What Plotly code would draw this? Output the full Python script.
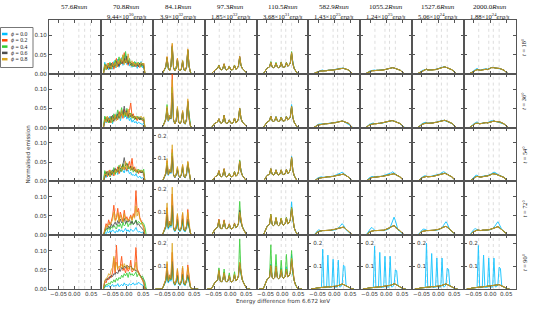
import plotly.graph_objects as go

# ---------------------------------------------------------------- data
ENERGY = [-0.072, -0.068, -0.064, -0.060, -0.056, -0.052, -0.048, -0.044, -0.040, -0.036,
          -0.032, -0.028, -0.024, -0.020, -0.016, -0.012, -0.008, -0.004, 0.000, 0.004,
          0.008, 0.012, 0.016, 0.020, 0.024, 0.028, 0.032, 0.036, 0.040, 0.044,
          0.048, 0.052, 0.056, 0.060]
PHASES = ["0.0", "0.2", "0.4", "0.6", "0.8"]
PHASE_COLORS = ["#00BFFF", "#FF4500", "#32CD32", "#4D4D4D", "#DAA520"]
RADII = ["57.6", "70.8", "84.1", "97.3", "110.5", "582.9", "1055.2", "1527.6", "2000.0"]
LUM_MANTISSA = ["", "9.44", "3.9", "1.85", "3.68", "1.43", "1.24", "5.06", "1.88"]
LUM_EXPONENT = ["", "30", "32", "32", "31", "25", "25", "24", "24"]
INCLINATIONS = [18, 36, 54, 72, 90]
X_TICKS = [-0.05, 0.0, 0.05]
X_TICK_TEXT = ["\u22120.05", "0.00", "0.05"]
Y_TICKS = [0.0, 0.05, 0.10]
Y_TICK_TEXT = ["0.00", "0.05", "0.10"]
Y_TICKS_TALL = [0.1, 0.2]
Y_TICK_TEXT_TALL = ["0.1", "0.2"]
LINE_MARKS_EARLY = [-0.035, 0.012, 0.030, 0.048]
LINE_MARKS = [-0.035, -0.004, 0.010, 0.028]

# Normalised emission in thousandths, order of PHASES, sampled on ENERGY
# ---- column 70.8 Rsun
c2_t18 = [
    [0, 30,14,24,10,26,16,12,32,15, 24,38,17,28,42,22,32,50,24,36, 20,30,17,26,19,30,14,22,26,32, 16,24,0,0],
    [0, 22,18,12,28,14,20,30,12,26, 40,18,30,24,36,26,55,30,40,22, 34,26,20,30,24,18,28,20,16,26, 22,28,0,0],
    [0, 26,10,20,16,30,12,24,18,36, 20,28,44,26,34,48,28,58,34,30, 40,22,28,18,32,24,20,30,22,18, 28,20,0,0],
    [0, 18,24,14,22,12,28,18,26,20, 32,24,20,38,26,30,40,28,46,26, 32,24,28,22,20,26,24,18,28,22, 26,18,0,0],
    [0, 24,12,28,16,22,14,28,20,30, 16,34,26,40,30,50,24,36,28,52, 30,26,34,20,28,22,30,26,20,30, 24,28,0,0],
]
c2_t36 = [
    [0, 26,12,20,14,30,18,10,28,20, 34,22,40,18,30,44,26,38,22,30, 18,26,14,20,12,16,10,14,12,10, 8,12,0,0],
    [0, 20,28,14,24,12,30,22,16,34, 26,20,42,28,36,24,48,30,38,26, 44,64,30,36,22,28,18,26,20,24, 18,22,0,0],
    [0, 30,16,26,12,22,28,14,36,22, 30,46,24,34,52,30,40,28,50,34, 26,38,24,30,20,26,30,22,28,20, 24,26,0,0],
    [0, 16,22,18,26,14,20,32,18,28, 22,36,26,30,42,34,56,36,44,30, 38,28,34,26,30,22,24,28,20,26, 22,20,0,0],
    [0, 22,14,30,18,24,12,26,20,32, 18,28,36,24,46,28,34,40,30,48, 30,36,26,32,24,30,22,28,26,30, 24,28,0,0],
]
c2_t54 = [
    [0, 24,10,18,26,12,22,16,30,20, 28,18,34,24,40,28,22,36,26,30, 20,24,16,18,14,20,12,10,14,8, 10,8,0,0],
    [0, 18,26,12,22,30,16,24,14,32, 24,38,20,30,26,44,30,36,28,40, 52,34,60,30,38,24,30,20,26,22, 28,20,0,0],
    [0, 28,14,24,18,12,28,20,36,18, 30,24,42,30,26,46,34,40,48,32, 38,28,36,24,30,26,22,32,26,30, 22,32,0,0],
    [0, 14,20,26,16,24,18,30,22,34, 28,26,38,32,36,44,62,40,46,38, 34,40,30,36,28,30,26,24,28,22, 26,20,0,0],
    [0, 20,16,22,28,14,24,26,18,30, 22,34,28,44,32,38,30,52,34,42, 36,30,40,28,34,26,32,24,30,26, 28,24,0,0],
]
c2_t72 = [
    [0, 8,4,10,6,12,8,14,10,6, 12,8,16,10,14,8,12,18,10,14, 8,16,12,10,14,20,12,8,10,6, 8,6,0,0],
    [0, 18,30,22,40,28,36,50,78,40, 46,70,38,60,44,36,65,42,48,38, 44,52,40,56,48,116,60,70,46,40, 30,22,0,0],
    [0, 10,16,12,20,14,22,18,26,20, 16,28,22,30,18,34,24,28,36,22, 30,26,38,28,32,40,30,36,32,28, 34,30,20,0],
    [0, 14,20,16,24,18,30,22,28,34, 26,38,30,42,32,36,44,30,38,34, 40,30,36,28,32,38,26,30,24,20, 16,12,0,0],
    [0, 16,24,20,30,26,34,40,60,36, 42,58,34,52,40,34,56,38,44,36, 40,48,38,52,44,76,50,62,42,36, 28,20,0,0],
]
c2_t90 = [
    [0, 4,8,6,10,4,8,12,6,10, 8,14,6,10,12,8,16,10,12,8, 14,10,12,16,10,14,12,18,14,12, 10,8,6,0],
    [0, 20,16,28,24,34,30,44,80,40, 114,50,46,60,85,48,54,42,58,46, 52,75,44,48,56,108,52,44,36,28, 22,16,0,0],
    [0, 8,12,10,16,12,20,16,24,18, 28,22,30,26,36,30,40,34,42,30, 44,36,40,34,38,44,32,40,36,30, 34,26,18,0],
    [0, 20,26,24,30,28,36,32,40,38, 44,40,50,46,56,52,60,54,62,58, 56,60,54,50,52,46,48,40,36,32, 28,22,0,0],
    [0, 22,28,30,40,36,50,56,85,48, 70,52,60,56,64,54,66,58,62,52, 58,60,50,54,48,70,46,40,34,28, 24,18,0,0],
]
# ---- column 84.1 Rsun
c3_t18 = [
    [0,0,0,0,0,0, 4,9,16,38,13,8,18,68,15,8,13,35,10,8,11,30,9,8,16,58,18,4, 0,0,0,0,0,0],
    [0,0,0,0,0,0, 5,10,18,44,14,9,20,76,16,8,14,40,10,8,12,33,10,8,18,63,20,4, 0,0,0,0,0,0],
    [0,0,0,0,0,0, 4,11,17,40,15,8,21,70,17,9,15,36,11,8,13,34,10,9,17,60,19,5, 0,0,0,0,0,0],
    [0,0,0,0,0,0, 4,10,18,42,14,8,20,72,16,8,14,38,10,8,12,32,10,8,18,62,20,4, 0,0,0,0,0,0],
    [0,0,0,0,0,0, 4,10,18,45,14,8,20,80,16,8,14,40,10,8,12,35,10,8,18,65,20,4, 0,0,0,0,0,0],
]
c3_t36 = [
    [0,0,0,0,0,0, 5,11,20,45,16,26,22,80,18,10,16,45,13,10,15,38,11,9,20,62,22,5, 0,0,0,0,0,0],
    [0,0,0,0,0,0, 6,12,22,50,18,32,25,140,22,10,18,50,14,10,16,42,12,10,22,70,24,5, 0,0,0,0,0,0],
    [0,0,0,0,0,0, 5,13,24,60,19,30,24,105,20,11,19,50,15,11,17,40,13,10,23,65,25,6, 0,0,0,0,0,0],
    [0,0,0,0,0,0, 5,12,21,50,17,28,23,90,19,10,17,48,14,10,16,40,12,10,21,68,23,5, 0,0,0,0,0,0],
    [0,0,0,0,0,0, 6,12,22,55,18,31,24,125,21,10,18,55,14,10,16,45,12,10,22,75,24,5, 0,0,0,0,0,0],
]
c3_t54 = [
    [0,0,0,0,0,0, 7,18,30,60,26,42,34,95,26,16,26,48,22,16,26,55,20,16,30,70,30,7, 0,0,0,0,0,0],
    [0,0,0,0,0,0, 8,20,36,90,30,52,40,140,30,18,30,60,25,18,30,70,22,18,35,85,35,8, 0,0,0,0,0,0],
    [0,0,0,0,0,0, 8,21,34,80,31,48,42,125,31,19,31,55,26,19,31,65,23,18,36,80,36,9, 0,0,0,0,0,0],
    [0,0,0,0,0,0, 7,19,32,70,28,45,38,110,28,17,28,50,24,17,28,60,21,17,33,75,33,8, 0,0,0,0,0,0],
    [0,0,0,0,0,0, 8,20,36,100,30,50,40,160,30,18,30,65,25,18,30,75,22,18,35,88,35,8, 0,0,0,0,0,0],
]
c3_t72 = [
    [0,0,0,0,0,0, 8,18,30,60,26,40,34,90,26,15,26,50,20,15,26,55,18,15,30,58,30,8, 0,0,0,0,0,0],
    [0,0,0,0,0,0, 10,25,42,120,36,62,46,180,36,20,36,90,28,20,36,95,25,20,40,112,40,10, 0,0,0,0,0,0],
    [0,0,0,0,0,0, 9,22,36,80,32,50,40,120,32,18,32,60,25,18,32,65,22,18,36,60,36,9, 0,0,0,0,0,0],
    [0,0,0,0,0,0, 9,22,38,90,33,55,42,130,33,19,33,70,26,19,33,72,24,19,38,70,38,9, 0,0,0,0,0,0],
    [0,0,0,0,0,0, 10,24,40,140,35,60,45,210,35,20,35,95,28,20,35,100,25,20,40,100,40,10, 0,0,0,0,0,0],
]
c3_t90 = [
    [0,0,0,0,0,0, 8,18,30,55,26,40,34,80,26,15,26,45,20,15,26,48,18,15,30,50,30,8, 0,0,0,0,0,0],
    [0,0,0,0,0,0, 10,25,42,110,36,62,46,160,36,20,36,85,28,20,36,92,25,20,40,105,40,10, 0,0,0,0,0,0],
    [0,0,0,0,0,0, 9,22,36,70,32,50,40,110,32,18,32,55,25,18,32,60,22,18,36,55,36,9, 0,0,0,0,0,0],
    [0,0,0,0,0,0, 9,22,38,80,33,55,42,120,33,19,33,60,26,19,33,65,24,19,38,62,38,9, 0,0,0,0,0,0],
    [0,0,0,0,0,0, 10,24,40,120,35,60,45,200,35,20,35,90,28,20,35,100,25,20,40,95,40,10, 0,0,0,0,0,0],
]
# ---- column 97.3 Rsun
c4_t18_blue = [0,0,0,0, 3,8,10,12,14,20,12,10,14,24,12,10,12,19,11,10,12,21,12,14,19,40,21,14,10,6,2, 0,0,0]
c4_t18_main = [0,0,0,0, 3,8,10,12,14,22,12,10,14,26,12,10,12,20,11,10,12,22,12,14,20,45,22,14,10,6,2, 0,0,0]
c4_t18_green = [0,0,0,0, 3,8,10,12,15,23,12,10,14,25,12,10,12,20,11,10,12,23,12,14,20,43,22,14,10,6,2, 0,0,0]
c4_t36_blue = [0,0,0,0, 3,9,11,13,15,22,13,11,15,30,13,11,13,20,12,11,13,24,13,15,22,48,24,15,11,6,2, 0,0,0]
c4_t36_main = [0,0,0,0, 3,9,11,13,15,23,13,11,15,32,13,11,13,20,12,11,13,25,13,15,22,50,24,15,11,6,2, 0,0,0]
c4_t54_blue = [0,0,0,0, 3,9,12,14,16,26,14,12,16,30,14,12,14,19,13,12,14,24,14,16,24,45,26,16,11,6,2, 0,0,0]
c4_t54_green = [0,0,0,0, 3,9,12,14,16,27,14,12,16,32,14,12,14,21,13,12,14,26,14,16,24,56,26,16,11,6,2, 0,0,0]
c4_t54_main = [0,0,0,0, 3,9,12,14,16,28,14,12,16,33,14,12,14,20,13,12,14,25,14,16,24,52,26,16,11,6,2, 0,0,0]
c4_t72 = [
    [0,0,0,0, 4,12,16,18,22,36,20,16,22,34,20,16,20,26,18,16,20,28,20,22,30,50,34,22,14,8,3, 0,0,0],
    [0,0,0,0, 4,12,16,18,22,42,20,16,22,40,20,16,20,30,18,16,20,32,20,22,30,62,34,22,14,8,3, 0,0,0],
    [0,0,0,0, 4,12,16,18,22,38,20,16,22,36,20,16,20,28,18,16,20,30,20,22,30,88,34,22,14,8,3, 0,0,0],
    [0,0,0,0, 4,12,16,18,22,40,20,16,22,38,20,16,20,28,18,16,20,30,20,22,30,65,34,22,14,8,3, 0,0,0],
    [0,0,0,0, 4,12,16,18,22,40,20,16,22,38,20,16,20,28,18,16,20,30,20,22,30,60,34,22,14,8,3, 0,0,0],
]
c4_t90 = [
    [0,0,0,0, 5,14,18,20,24,40,22,18,24,36,22,18,22,30,20,18,22,32,22,24,34,55,38,24,16,9,3, 0,0,0],
    [0,0,0,0, 5,14,18,20,24,50,22,18,24,44,22,18,22,36,20,18,22,38,22,24,34,65,38,24,16,9,3, 0,0,0],
    [0,0,0,0, 5,14,18,20,24,55,22,18,24,52,22,18,22,42,20,18,22,45,22,24,34,130,38,24,16,9,3, 0,0,0],
    [0,0,0,0, 5,14,18,20,24,46,22,18,24,40,22,18,22,34,20,18,22,36,22,24,34,68,38,24,16,9,3, 0,0,0],
    [0,0,0,0, 5,14,18,20,24,48,22,18,24,42,22,18,22,35,20,18,22,38,22,24,34,70,38,24,16,9,3, 0,0,0],
]
# ---- column 110.5 Rsun
c5_t18_blue = [0,0,0,0, 4,10,14,16,18,28,18,16,18,27,18,16,18,28,18,17,19,28,20,22,28,50,26,14,8,3, 0,0,0,0]
c5_t18_green = [0,0,0,0, 4,10,14,16,18,32,18,16,18,30,18,16,18,31,18,17,19,30,20,22,28,58,26,14,8,3, 0,0,0,0]
c5_t18_main = [0,0,0,0, 4,10,14,16,18,30,18,16,18,28,18,16,18,30,18,17,19,29,20,22,28,55,26,14,8,3, 0,0,0,0]
c5_t36_blue = [0,0,0,0, 4,10,14,16,18,30,18,16,18,29,18,16,18,28,18,17,19,30,20,22,28,60,26,14,8,3, 0,0,0,0]
c5_t36_main = [0,0,0,0, 4,10,14,16,18,30,18,16,18,28,18,16,18,27,18,17,19,29,20,22,28,55,26,14,8,3, 0,0,0,0]
c5_t54_blue = [0,0,0,0, 4,11,15,17,19,32,19,17,19,30,19,17,19,29,19,18,20,30,21,23,30,65,28,15,8,3, 0,0,0,0]
c5_t54_main = [0,0,0,0, 4,11,15,17,19,33,19,17,19,30,19,17,19,30,19,18,20,31,21,23,30,62,28,15,8,3, 0,0,0,0]
c5_t72 = [
    [0,0,0,0, 6,16,22,26,28,50,28,25,28,44,28,25,28,42,28,26,30,46,30,32,40,87,38,20,10,4, 0,0,0,0],
    [0,0,0,0, 6,16,22,26,28,55,28,25,28,46,28,25,28,44,28,26,30,46,30,32,40,72,38,20,10,4, 0,0,0,0],
    [0,0,0,0, 6,16,22,26,28,54,28,25,28,46,28,25,28,45,28,26,30,46,30,32,40,72,38,20,10,4, 0,0,0,0],
    [0,0,0,0, 6,16,22,26,28,50,28,25,28,44,28,25,28,42,28,26,30,44,30,32,40,68,38,20,10,4, 0,0,0,0],
    [0,0,0,0, 6,16,22,26,28,52,28,25,28,45,28,25,28,44,28,26,30,45,30,32,40,70,38,20,10,4, 0,0,0,0],
]
c5_t90 = [
    [0,0,0,0, 7,18,24,28,30,65,30,27,30,60,30,27,30,55,30,28,32,58,32,34,42,90,40,22,11,4, 0,0,0,0],
    [0,0,0,0, 7,18,24,28,30,62,30,27,30,60,30,27,30,52,30,28,32,52,32,34,42,78,40,22,11,4, 0,0,0,0],
    [0,0,0,0, 7,18,24,28,30,115,30,27,30,90,30,27,30,75,30,28,32,90,32,34,42,100,40,22,11,4, 0,0,0,0],
    [0,0,0,0, 7,18,24,28,30,58,30,27,30,55,30,27,30,48,30,28,32,48,32,34,42,75,40,22,11,4, 0,0,0,0],
    [0,0,0,0, 7,18,24,28,30,60,30,27,30,58,30,27,30,50,30,28,32,50,32,34,42,80,40,22,11,4, 0,0,0,0],
]
# ---- columns 582.9 / 1055.2 / 1527.6 / 2000.0 Rsun (blue = phase 0.0, rest = other phases)
c6_t18_blue = [0,0,0, 2,4,6,6,8,9,10,8,8,9, 9,10,9,10,11,10,12,12,13,14, 14,15,15,13,12,12,10,6,2, 0,0]
c6_t18_rest = [0,0,0, 2,4,5,6,7,7,8,7,8,8, 9,9,9,10,10,10,11,12,13,13, 14,14,14,13,13,12,10,6,2, 0,0]
c7_t18_blue = [0,0,0, 2,5,7,8,9,8,10,9,9,10, 10,10,11,10,11,12,13,15,16,17, 16,15,14,13,12,11,9,5,2, 0,0]
c7_t18_rest = [0,0,0, 2,4,6,7,8,8,9,8,9,9, 9,10,10,10,11,12,13,14,15,16, 16,15,14,13,12,11,9,5,2, 0,0]
c8_t18_blue = [0,0,0, 2,5,7,9,10,12,12,10,10,10, 11,10,11,12,12,13,15,16,18,18, 17,17,16,14,13,11,10,6,2, 0,0]
c8_t18_rest = [0,0,0, 2,4,6,8,9,11,12,10,9,10, 10,10,11,11,12,13,14,16,17,18, 18,17,16,14,13,12,10,6,2, 0,0]
c9_t18_blue = [0,0,0, 2,5,7,9,12,14,11,9,10,11, 12,13,12,12,13,15,17,17,16,15, 14,14,13,13,12,10,9,5,2, 0,0]
c9_t18_rest = [0,0,0, 2,4,6,8,10,11,10,9,9,10, 11,13,12,11,12,14,16,17,16,15, 15,14,14,13,12,11,9,5,2, 0,0]

c6_t36_blue = [0,0,0, 2,6,8,9,10,11,10,9,10,11, 12,11,12,12,13,12,14,14,15,16, 16,17,16,14,13,12,10,6,2, 0,0]
c6_t36_rest = [0,0,0, 2,5,6,7,8,9,9,9,10,10, 11,11,11,12,12,12,13,14,15,16, 17,17,16,15,14,13,11,7,2, 0,0]
c7_t36_blue = [0,0,0, 2,6,9,10,11,12,10,11,12,11, 12,12,13,12,14,14,15,17,18,19, 18,17,15,14,13,12,10,6,2, 0,0]
c7_t36_rest = [0,0,0, 2,5,7,8,9,10,10,10,11,11, 11,12,12,13,13,14,15,16,17,18, 18,17,16,15,14,12,10,6,2, 0,0]
c8_t36_blue = [0,0,0, 2,6,9,11,13,14,12,11,12,12, 13,12,13,14,14,16,17,18,20,19, 18,17,16,15,13,12,10,6,2, 0,0]
c8_t36_rest = [0,0,0, 2,5,7,9,10,12,12,11,11,12, 12,12,13,13,14,15,16,17,19,19, 19,18,17,15,14,12,10,6,2, 0,0]
c9_t36_blue = [0,0,0, 2,6,9,11,14,15,12,10,11,12, 13,14,13,13,14,16,18,18,17,16, 15,15,14,13,12,11,9,5,2, 0,0]
c9_t36_rest = [0,0,0, 2,5,7,9,11,12,11,10,10,11, 12,13,13,12,13,15,17,18,17,16, 16,15,15,14,13,11,9,5,2, 0,0]

c6_t54_blue = [0,0,0, 2,6,9,10,11,12,11,10,11,12, 12,13,12,14,13,15,16,17,18,20, 22,24,21,17,15,13,11,7,2, 0,0]
c6_t54_rest = [0,0,0, 2,5,7,8,9,10,10,10,11,11, 12,12,12,13,13,14,15,16,17,18, 19,20,19,17,15,14,11,7,2, 0,0]
c7_t54_blue = [0,0,0, 2,7,10,11,13,12,11,12,13,12, 13,13,14,14,16,17,18,19,21,23, 25,22,19,16,14,13,10,6,2, 0,0]
c7_t54_rest = [0,0,0, 2,5,7,9,10,11,11,11,12,12, 12,13,13,14,15,16,17,18,19,20, 21,20,18,16,15,13,11,6,2, 0,0]
c8_t54_blue = [0,0,0, 2,7,10,12,14,15,13,12,13,13, 14,13,14,15,16,18,19,21,23,25, 24,21,18,16,14,13,10,6,2, 0,0]
c8_t54_rest = [0,0,0, 2,6,8,10,11,13,13,12,12,13, 13,13,14,15,16,17,18,19,20,21, 21,20,18,16,15,13,11,6,2, 0,0]
c9_t54_blue = [0,0,0, 2,6,10,13,16,16,13,11,12,13, 14,15,14,15,16,18,20,22,24,23, 20,18,16,15,13,12,10,5,2, 0,0]
c9_t54_rest = [0,0,0, 2,5,8,10,12,13,12,11,11,12, 13,14,14,14,15,17,18,20,20,19, 18,17,16,15,14,12,10,5,2, 0,0]

c6_t72_blue = [0,0,0, 3,8,12,14,12,11,12,11,12,12, 12,13,12,13,13,14,14,16,18,22, 26,30,26,18,14,11,9,5,2, 0,0]
c6_t72_rest = [0,0,0, 2,6,8,10,11,12,12,12,12,12, 13,13,13,14,14,15,16,17,18,20, 21,22,21,19,16,13,10,6,2, 0,0]
c7_t72_blue = [0,0,0, 3,9,14,18,20,16,13,12,13,12, 12,13,12,12,13,13,14,16,20,30, 42,47,38,22,14,11,9,5,2, 0,0]
c7_t72_rest = [0,0,0, 2,6,8,10,11,12,12,12,12,12, 12,13,13,13,14,15,16,18,20,22, 24,25,22,18,15,13,10,6,2, 0,0]
c8_t72_blue = [0,0,0, 3,8,12,15,16,14,12,12,12,12, 13,13,12,13,13,14,15,16,19,25, 32,35,30,20,14,11,9,5,2, 0,0]
c8_t72_rest = [0,0,0, 2,6,9,10,11,12,12,12,12,13, 13,13,13,14,14,15,16,17,19,21, 22,23,21,18,15,13,10,6,2, 0,0]
c9_t72_blue = [0,0,0, 3,9,13,16,17,14,12,12,12,13, 13,12,13,13,14,14,15,17,20,26, 32,35,29,20,15,12,9,5,2, 0,0]
c9_t72_rest = [0,0,0, 2,6,9,10,12,13,13,12,12,13, 13,13,13,14,14,15,16,17,18,20, 21,22,20,17,15,13,10,6,2, 0,0]

c6_t90_blue = [0,0,0, 2,4,5,6,6,6,174,6,6,7, 148,7,7,7,130,7,8,8,126,9, 10,20,104,98,15,9,7,4,2, 0,0]
c6_t90_rest = [0,0,0, 2,4,5,6,7,7,8,8,8,9, 9,9,10,10,10,11,12,13,14,16, 19,22,20,16,13,11,8,5,2, 0,0]
c7_t90_blue = [0,0,0, 2,4,5,6,6,6,187,6,6,7, 160,7,7,7,143,7,8,8,143,9, 10,18,83,80,14,9,7,4,2, 0,0]
c7_t90_rest = [0,0,0, 2,4,5,6,7,8,8,8,9,9, 9,10,10,10,11,11,12,13,15,17, 20,23,21,17,13,11,8,5,2, 0,0]
c8_t90_blue = [0,0,0, 2,4,5,6,6,6,200,6,6,7, 155,7,7,7,135,7,8,8,135,9, 10,18,90,86,14,9,7,4,2, 0,0]
c8_t90_rest = [0,0,0, 2,4,5,6,7,8,9,9,9,9, 10,10,10,11,11,12,13,14,15,17, 20,22,20,16,13,11,8,5,2, 0,0]
c9_t90_blue = [0,0,0, 2,4,5,6,6,6,190,6,6,7, 148,7,7,7,135,7,8,8,135,9, 10,18,95,90,14,9,7,4,2, 0,0]
c9_t90_rest = [0,0,0, 2,4,5,6,8,9,9,9,9,9, 10,10,10,11,11,12,13,14,15,17, 19,21,19,16,13,11,8,5,2, 0,0]


def five(blue, rest):
    return [blue, rest, rest, rest, rest]


PANEL_DATA = {
    (0, 1): c2_t18, (1, 1): c2_t36, (2, 1): c2_t54, (3, 1): c2_t72, (4, 1): c2_t90,
    (0, 2): c3_t18, (1, 2): c3_t36, (2, 2): c3_t54, (3, 2): c3_t72, (4, 2): c3_t90,
    (0, 3): [c4_t18_blue, c4_t18_main, c4_t18_green, c4_t18_main, c4_t18_main],
    (1, 3): five(c4_t36_blue, c4_t36_main),
    (2, 3): [c4_t54_blue, c4_t54_main, c4_t54_green, c4_t54_main, c4_t54_main],
    (3, 3): c4_t72, (4, 3): c4_t90,
    (0, 4): [c5_t18_blue, c5_t18_main, c5_t18_green, c5_t18_main, c5_t18_main],
    (1, 4): five(c5_t36_blue, c5_t36_main),
    (2, 4): five(c5_t54_blue, c5_t54_main),
    (3, 4): c5_t72, (4, 4): c5_t90,
    (0, 5): five(c6_t18_blue, c6_t18_rest), (0, 6): five(c7_t18_blue, c7_t18_rest),
    (0, 7): five(c8_t18_blue, c8_t18_rest), (0, 8): five(c9_t18_blue, c9_t18_rest),
    (1, 5): five(c6_t36_blue, c6_t36_rest), (1, 6): five(c7_t36_blue, c7_t36_rest),
    (1, 7): five(c8_t36_blue, c8_t36_rest), (1, 8): five(c9_t36_blue, c9_t36_rest),
    (2, 5): five(c6_t54_blue, c6_t54_rest), (2, 6): five(c7_t54_blue, c7_t54_rest),
    (2, 7): five(c8_t54_blue, c8_t54_rest), (2, 8): five(c9_t54_blue, c9_t54_rest),
    (3, 5): five(c6_t72_blue, c6_t72_rest), (3, 6): five(c7_t72_blue, c7_t72_rest),
    (3, 7): five(c8_t72_blue, c8_t72_rest), (3, 8): five(c9_t72_blue, c9_t72_rest),
    (4, 5): five(c6_t90_blue, c6_t90_rest), (4, 6): five(c7_t90_blue, c7_t90_rest),
    (4, 7): five(c8_t90_blue, c8_t90_rest), (4, 8): five(c9_t90_blue, c9_t90_rest),
}
TALL_PANELS = {(2, 2), (3, 2), (4, 2), (4, 5), (4, 6), (4, 7), (4, 8)}

# ---------------------------------------------------------------- layout
W, H = 550, 309
L, R, T, B = 49, 516, 20, 289
NR, NC = 5, 9
AX = "#555555"
TXT = "#333333"
SANS = "DejaVu Sans"
SERIF = "Liberation Serif"


def px_x(p):
    return (p - L) / (R - L)


def px_y(p):
    return (B - p) / (B - T)


fig = go.Figure()
layout = {}
shapes = []
annotations = []

for i in range(NR):
    for j in range(NC):
        n = i * NC + j + 1
        xs = "" if n == 1 else str(n)
        tall = (i, j) in TALL_PANELS
        xa = dict(domain=[j / NC, (j + 1) / NC], anchor="y" + xs, range=[-0.08, 0.08],
                  showgrid=False, zeroline=False, showline=True, mirror="ticks",
                  linecolor=AX, linewidth=1, ticks="inside", ticklen=3, tickwidth=0.8,
                  tickcolor=AX, tickvals=X_TICKS, showticklabels=False)
        ya = dict(domain=[1 - (i + 1) / NR, 1 - i / NR], anchor="x" + xs,
                  range=[0, 0.235 if tall else 0.14],
                  showgrid=False, zeroline=False, showline=True, mirror="ticks",
                  linecolor=AX, linewidth=1, ticks="inside", ticklen=3, tickwidth=0.8,
                  tickcolor=AX, tickfont=dict(family=SANS, size=5.6, color=TXT))
        if tall:
            ya.update(tickvals=Y_TICKS_TALL, ticktext=Y_TICK_TEXT_TALL, showticklabels=True,
                      ticklabelposition="inside")
        else:
            ya.update(tickvals=Y_TICKS, ticktext=Y_TICK_TEXT, showticklabels=(j == 0))
        layout["xaxis" + xs] = xa
        layout["yaxis" + xs] = ya

        # x tick labels of the bottom row, placed on each panel's own x scale
        if i == NR - 1:
            for tv, tt in zip(X_TICKS, X_TICK_TEXT):
                annotations.append(dict(xref="x" + xs, yref="paper", x=tv, y=px_y(293.5),
                                        text=tt, showarrow=False, xanchor="center",
                                        yanchor="middle",
                                        font=dict(family=SANS, size=5.6, color=TXT)))

        marks = LINE_MARKS_EARLY if j < 2 else LINE_MARKS
        for m in marks:
            shapes.append(dict(type="line", xref="x" + xs, yref="y" + xs + " domain",
                               x0=m, x1=m, y0=0, y1=1, layer="below",
                               line=dict(color="#CFCFCF", width=0.7, dash="dot")))

        series = PANEL_DATA.get((i, j))
        if series:
            for k, vals in enumerate(series):
                vals = (list(vals) + [0] * len(ENERGY))[:len(ENERGY)]
                fig.add_trace(go.Scatter(
                    x=ENERGY, y=[v / 1000 for v in vals], mode="lines",
                    line=dict(color=PHASE_COLORS[k], width=1), opacity=0.85,
                    xaxis="x" + xs, yaxis="y" + xs, showlegend=False, hoverinfo="skip"))

# column titles
for j in range(NC):
    cx = (j + 0.5) / NC
    annotations.append(dict(xref="paper", yref="paper", x=cx, y=px_y(7.5),
                            text=f"{RADII[j]}<i>Rsun</i>", showarrow=False,
                            xanchor="center", yanchor="middle",
                            font=dict(family=SERIF, size=7, color="#111")))
    if LUM_MANTISSA[j]:
        annotations.append(dict(xref="paper", yref="paper", x=cx, y=px_y(16.5),
                                text=f"{LUM_MANTISSA[j]}\u00d710<sup>{LUM_EXPONENT[j]}</sup><i>erg/s</i>",
                                showarrow=False, xanchor="center", yanchor="middle",
                                font=dict(family=SERIF, size=6.6, color="#111")))

# row labels
for i in range(NR):
    cy = 1 - (i + 0.5) / NR
    annotations.append(dict(xref="paper", yref="paper", x=px_x(524), y=cy,
                            text=f"<i>t</i> = {INCLINATIONS[i]}\u00b0", textangle=-90,
                            showarrow=False, xanchor="center", yanchor="middle",
                            font=dict(family=SERIF, size=6.3, color="#111")))

# axis titles
annotations.append(dict(xref="paper", yref="paper", x=px_x(27), y=0.5,
                        text="Normalised emission", textangle=-90, showarrow=False,
                        xanchor="center", yanchor="middle",
                        font=dict(family=SANS, size=5.6, color=TXT)))
annotations.append(dict(xref="paper", yref="paper", x=0.5, y=px_y(301),
                        text="Energy difference from 6.672 keV", showarrow=False,
                        xanchor="center", yanchor="middle",
                        font=dict(family=SANS, size=5.6, color=TXT)))

# legend (drawn by hand so it matches the compact original)
shapes.append(dict(type="rect", xref="paper", yref="paper",
                   x0=px_x(0.5), x1=px_x(33), y0=px_y(67.5), y1=px_y(27.5),
                   line=dict(color="#777777", width=1), fillcolor="white", layer="above"))
LEG_Y = [34, 40.3, 46.6, 52.9, 59.2]
for k, ph in enumerate(PHASES):
    shapes.append(dict(type="line", xref="paper", yref="paper",
                       x0=px_x(2), x1=px_x(7.5), y0=px_y(LEG_Y[k]), y1=px_y(LEG_Y[k]),
                       line=dict(color=PHASE_COLORS[k], width=2.5), layer="above"))
    annotations.append(dict(xref="paper", yref="paper", x=px_x(9), y=px_y(LEG_Y[k]),
                            text=f"<i>\u03d5</i> = {ph}", showarrow=False,
                            xanchor="left", yanchor="middle",
                            font=dict(family=SERIF, size=5.8, color="#222")))

fig.update_layout(
    width=W, height=H,
    margin=dict(l=L, r=W - R, t=T, b=H - B, pad=0),
    paper_bgcolor="white", plot_bgcolor="white",
    font=dict(family=SANS, size=6, color=TXT),
    showlegend=False,
    shapes=shapes, annotations=annotations,
    **layout,
)

# the page's default 8px body margin would push the 550x309 figure off the window
fig.write_html("out.html", config={"displayModeBar": False},
               post_script="document.body.style.margin='0';")
